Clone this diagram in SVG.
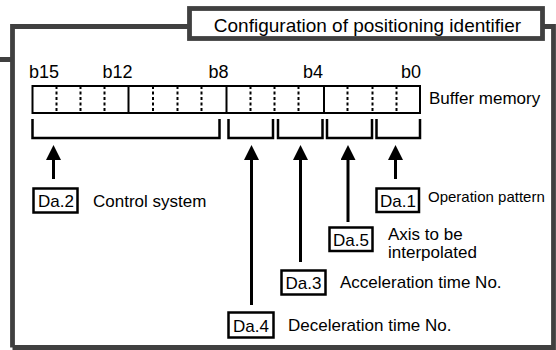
<svg xmlns="http://www.w3.org/2000/svg" width="556" height="350" viewBox="0 0 556 350">
<style>
text{font-family:"Liberation Sans",Arial,Helvetica,sans-serif;fill:#000}
.t17{font-size:17px}
.bit{font-size:18px;text-anchor:middle}
.frame{fill:none;stroke:#404040;stroke-width:4.8}
.box{fill:#fff;stroke:#000;stroke-width:2.5}
.reg{fill:#fff;stroke:#000;stroke-width:2}
.dot{stroke:#000;stroke-width:2;stroke-dasharray:3 2.5}
.sol{stroke:#000;stroke-width:2}
.brk{fill:none;stroke:#000;stroke-width:2.5}
.arr{stroke:#000;stroke-width:3;marker-end:url(#ah)}
.lbl{text-anchor:middle;font-size:17px}
</style>
<defs>
<marker id="ah" markerUnits="userSpaceOnUse" markerWidth="15" markerHeight="15" viewBox="0 0 15 15" refX="10" refY="7.5" orient="auto">
<path d="M0,0 L15,7.5 L0,15 z" fill="#000"/>
</marker>
</defs>
<rect width="556" height="350" fill="#fff"/>
<g id="frame">
<path class="frame" d="M0,59.5 H12.5 M12.5,347.5 V26.5 H189.5 M542.5,26.5 H553.5 V347.5 H12.5"/>
<rect class="frame" x="189.5" y="8.5" width="353" height="30" fill="#fff"/>
<text x="367.5" y="31.5" font-size="19" text-anchor="middle">Configuration of positioning identifier</text>
</g>
<g id="register">
<rect class="reg" x="32.5" y="86" width="387.5" height="27"/>
<g class="dot">
<line x1="56.5" y1="86" x2="56.5" y2="113"/>
<line x1="80.5" y1="86" x2="80.5" y2="113"/>
<line x1="104.5" y1="86" x2="104.5" y2="113"/>
<line x1="153" y1="86" x2="153" y2="113"/>
<line x1="177.5" y1="86" x2="177.5" y2="113"/>
<line x1="201.5" y1="86" x2="201.5" y2="113"/>
<line x1="250.5" y1="86" x2="250.5" y2="113"/>
<line x1="274.5" y1="86" x2="274.5" y2="113"/>
<line x1="298.5" y1="86" x2="298.5" y2="113"/>
<line x1="347.5" y1="86" x2="347.5" y2="113"/>
<line x1="372.5" y1="86" x2="372.5" y2="113"/>
<line x1="396.5" y1="86" x2="396.5" y2="113"/>
</g>
<line class="sol" x1="128.5" y1="86" x2="128.5" y2="113"/>
<line class="sol" x1="226.5" y1="86" x2="226.5" y2="113"/>
<line class="sol" x1="324" y1="86" x2="324" y2="113"/>
<text class="bit" x="44" y="78">b15</text>
<text class="bit" x="117.5" y="78">b12</text>
<text class="bit" x="218.5" y="78">b8</text>
<text class="bit" x="313" y="78">b4</text>
<text class="bit" x="411" y="78">b0</text>
<text class="t17" x="429" y="103.5">Buffer memory</text>
</g>
<g id="connectors">
<path class="brk" d="M32.5,119 V138 H219.5 V119"/>
<path class="brk" d="M228.5,119 V138 H273 V119"/>
<path class="brk" d="M278,119 V138 H322.5 V119"/>
<path class="brk" d="M327,119 V138 H372 V119"/>
<path class="brk" d="M376.5,119 V138 H420 V119"/>
<line class="arr" x1="53.5" y1="179" x2="53.5" y2="150"/>
<line class="arr" x1="251.5" y1="305" x2="251.5" y2="150"/>
<line class="arr" x1="300.5" y1="262" x2="300.5" y2="150"/>
<line class="arr" x1="348" y1="222" x2="348" y2="150"/>
<line class="arr" x1="395.5" y1="179" x2="395.5" y2="150"/>
</g>
<g id="da2">
<rect class="box" x="33.5" y="188.5" width="44" height="24"/>
<text class="lbl" x="56" y="207">Da.2</text>
<text class="t17" x="93" y="207">Control system</text>
</g>
<g id="da1">
<rect class="box" x="376.5" y="188.5" width="42.5" height="23.5"/>
<text class="lbl" x="398" y="206.5">Da.1</text>
<text x="428" y="202" font-size="15">Operation pattern</text>
</g>
<g id="da5">
<rect class="box" x="329.5" y="227.5" width="43" height="23.5"/>
<text class="lbl" x="351" y="245.5">Da.5</text>
<text class="t17" x="388" y="240">Axis to be</text>
<text class="t17" x="388" y="257.5">interpolated</text>
</g>
<g id="da3">
<rect class="box" x="281.5" y="270.5" width="44" height="24"/>
<text class="lbl" x="303.5" y="289">Da.3</text>
<text class="t17" x="340" y="288">Acceleration time No.</text>
</g>
<g id="da4">
<rect class="box" x="228.5" y="312.5" width="45" height="25"/>
<text class="lbl" x="251" y="331.5">Da.4</text>
<text class="t17" x="288" y="331">Deceleration time No.</text>
</g>
</svg>
